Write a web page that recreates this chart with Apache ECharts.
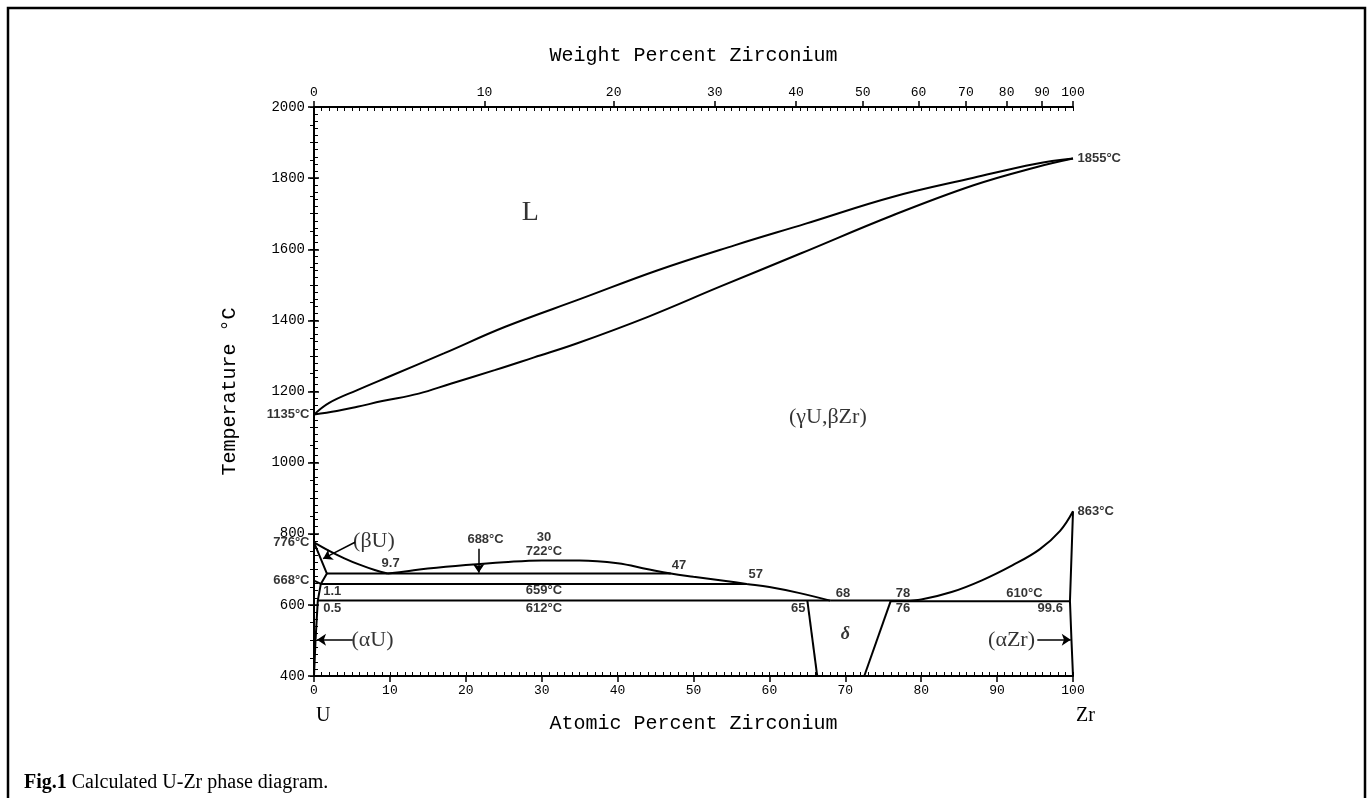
<!DOCTYPE html>
<html>
<head>
<meta charset="utf-8">
<title>U-Zr phase diagram</title>
<script src="https://cdn.jsdelivr.net/npm/echarts@6.0.0/dist/echarts.min.js"></script>
<style>
  html, body { margin: 0; padding: 0; background: #fff; }
  #chart { width: 1371px; height: 798px; }
</style>
</head>
<body>
<div id="chart"></div>
<script>
// liquidus / solidus of the (gammaU, betaZr) field
const liquidus = [[0, 1135], [2, 1168], [5.7, 1204], [10, 1243], [17.1, 1307], [25.2, 1382], [35.2, 1461],
  [45.3, 1541], [55.4, 1611], [64.8, 1672], [76.2, 1747], [86.9, 1801], [95, 1840], [100, 1855]]
const solidus = [[0, 1135], [3, 1145], [5.7, 1157], [9, 1173], [13.8, 1194], [18, 1222], [23.8, 1260],
  [29, 1296], [34.6, 1335], [44, 1410], [53.4, 1494], [64.1, 1588], [76.2, 1695], [86.9, 1780], [95, 1830], [100, 1855]]

// low temperature boundaries
const betaUGamma = [[0, 776], [2, 752], [4, 731], [6, 713], [8, 698], [9.7, 688]]
const gammaDome = [[9.7, 688], [12, 694], [15, 702], [20, 712], [25, 720], [30, 725], [35, 725], [40, 717],
  [44, 700], [47, 688], [50, 679], [54, 668], [57, 659], [60, 650], [64, 633], [68, 612]]
const gammaFlat = [[68, 612], [78, 612]]
const gammaZr = [[78, 612], [80, 615], [84, 636], [88, 669], [92, 711], [95.6, 756], [98.3, 808], [100, 863]]
const line688 = [[1.7, 688], [47, 688]]
const line659 = [[0.9, 659], [57, 659]]
const line612 = [[0.5, 612], [68, 612]]
const line610 = [[76, 610], [99.6, 610]]
const betaUEdge = [[0, 776], [1.7, 688], [0.9, 659]]
const alphaUEdge = [[0, 668], [0.9, 659], [0.5, 612], [0.2, 500], [0, 400]]
const deltaLeft = [[65, 612], [66.3, 400]]
const deltaRight = [[76, 612], [72.5, 400]]
const alphaZrEdge = [[100, 863], [99.6, 610], [99.8, 500], [100, 400]]

// pointer arrows [from, to]
const arrows = [
  [[5.4, 776], [1.2, 730]],
  [[21.7, 758], [21.7, 690]],
  [[5.1, 502], [0.4, 502]],
  [[95.3, 502], [99.7, 502]]
]

// annotations [x, T, text]
const numLabels = [
  [22.6, 784, '688°C'], [30.3, 791, '30'], [30.3, 751, '722°C'], [10.1, 716, '9.7'],
  [48.1, 710, '47'], [58.2, 685, '57'], [69.7, 633, '68'], [77.6, 633, '78'], [93.6, 633, '610°C'],
  [2.4, 638, '1.1'], [2.4, 591, '0.5'], [30.3, 640, '659°C'], [30.3, 591, '612°C'],
  [63.8, 591, '65'], [77.6, 591, '76'], [97, 591, '99.6']
]
const leftLabels = [[0, 1135, '1135°C'], [0, 776, '776°C'], [0, 668, '668°C']]
const rightLabels = [[100, 1855, '1855°C'], [100, 863, '863°C']]
const phaseLabels = [
  [7.9, 779, '(βU)'], [7.7, 502, '(αU)'], [91.9, 502, '(αZr)'], [67.7, 1128, '(γU,βZr)']
]
const bigLabels = [[28.5, 1702, 'L']]
const deltaLabels = [[70, 516, 'δ']]

// top axis: weight percent Zr
const wtTicks = [0, 10, 20, 30, 40, 50, 60, 70, 80, 90, 100]
const M_ZR = 91.224
const M_U = 238.029
function wtToAt(w) {
  if (w >= 100) return 100
  const nz = w / M_ZR
  const nu = (100 - w) / M_U
  return nz / (nz + nu) * 100
}
const wtPos = wtTicks.map(wtToAt)

const mono = 'Liberation Mono'
const black = '#000'

function curve(data, smooth) {
  return {
    type: 'line',
    data: data,
    showSymbol: false,
    symbol: 'none',
    smooth: smooth || false,
    silent: true,
    clip: false,
    lineStyle: { color: black, width: 2 },
    z: 3
  }
}

function labels(list, label) {
  return {
    type: 'scatter',
    symbolSize: 1,
    clip: false,
    silent: true,
    itemStyle: { color: 'rgba(0,0,0,0)' },
    data: list.map(d => ({ value: [d[0], d[1]], name: d[2] })),
    label: Object.assign({ show: true, formatter: '{b}', color: black }, label),
    z: 5
  }
}

const chart = echarts.init(document.getElementById('chart'))
chart.setOption({
  animation: false,
  backgroundColor: '#fff',
  grid: { left: 314, right: 298, top: 107, bottom: 122 },
  xAxis: [
    {
      type: 'value', position: 'bottom', min: 0, max: 100, interval: 10,
      name: 'Atomic Percent Zirconium', nameLocation: 'middle', nameGap: 38,
      nameTextStyle: { fontFamily: mono, fontSize: 20, color: black },
      axisLine: { show: true, lineStyle: { color: black, width: 2 } },
      axisTick: { show: true, length: 6, lineStyle: { color: black, width: 1.5 } },
      axisLabel: { fontFamily: mono, fontSize: 13, color: black, margin: 8 },
      splitLine: { show: false }
    },
    {
      type: 'value', position: 'bottom', min: 0, max: 100, interval: 1,
      axisLine: { show: false },
      axisTick: { show: true, inside: true, length: 4, lineStyle: { color: black, width: 1 } },
      axisLabel: { show: false },
      splitLine: { show: false }
    },
    {
      type: 'value', position: 'top', min: 0, max: 100,
      name: 'Weight Percent Zirconium', nameLocation: 'middle', nameGap: 41,
      nameTextStyle: { fontFamily: mono, fontSize: 20, color: black },
      axisLine: { show: true, lineStyle: { color: black, width: 2 } },
      axisTick: { show: true, length: 6, customValues: wtPos, lineStyle: { color: black, width: 1.5 } },
      axisLabel: {
        fontFamily: mono, fontSize: 13, color: black, margin: 8, customValues: wtPos,
        formatter: function (v) {
          let best = 0
          wtPos.forEach((p, i) => { if (Math.abs(p - v) < Math.abs(wtPos[best] - v)) best = i })
          return String(wtTicks[best])
        }
      },
      splitLine: { show: false }
    },
    {
      type: 'value', position: 'top', min: 0, max: 100, interval: 1,
      axisLine: { show: false },
      axisTick: { show: true, inside: true, length: 4, lineStyle: { color: black, width: 1 } },
      axisLabel: { show: false },
      splitLine: { show: false }
    }
  ],
  yAxis: [
    {
      type: 'value', position: 'left', min: 400, max: 2000, interval: 200,
      name: 'Temperature °C', nameLocation: 'middle', nameGap: 74, nameRotate: 90,
      nameTextStyle: { fontFamily: mono, fontSize: 20, color: black },
      axisLine: { show: true, lineStyle: { color: black, width: 2 } },
      axisTick: { show: true, length: 6, lineStyle: { color: black, width: 1.5 } },
      axisLabel: { fontFamily: mono, fontSize: 14, color: black, margin: 9, formatter: v => String(v) },
      splitLine: { show: false }
    },
    {
      type: 'value', position: 'left', min: 400, max: 2000, interval: 20,
      axisLine: { show: false },
      axisTick: { show: true, inside: true, length: 4, lineStyle: { color: black, width: 1 } },
      axisLabel: { show: false },
      splitLine: { show: false }
    },
    {
      type: 'value', position: 'right', min: 400, max: 2000, interval: 200,
      axisLine: { show: true, lineStyle: { color: black, width: 2 } },
      axisTick: { show: true, length: 5, lineStyle: { color: black, width: 1.5 } },
      axisLabel: { show: false },
      splitLine: { show: false }
    },
    {
      type: 'value', position: 'right', min: 400, max: 2000, interval: 50,
      axisLine: { show: false },
      axisTick: { show: true, inside: true, length: 4, lineStyle: { color: black, width: 1 } },
      axisLabel: { show: false },
      splitLine: { show: false }
    }
  ],
  series: [
    curve(liquidus, 0.4),
    curve(solidus, 0.4),
    curve(betaUGamma, 0.4),
    curve(gammaDome, 0.4),
    curve(gammaFlat),
    curve(gammaZr, 0.4),
    curve(line688),
    curve(line659),
    curve(line612),
    curve(line610),
    curve(betaUEdge),
    curve(alphaUEdge),
    curve(deltaLeft),
    curve(deltaRight),
    curve(alphaZrEdge),
    {
      type: 'lines',
      coordinateSystem: 'cartesian2d',
      silent: true,
      symbol: ['none', 'arrow'],
      symbolSize: 9,
      lineStyle: { color: black, width: 1.5, opacity: 1 },
      data: arrows.map(a => ({ coords: a })),
      z: 4
    },
    labels(numLabels, { position: 'inside', fontFamily: 'Liberation Sans', fontWeight: 'bold', fontSize: 13 }),
    labels(leftLabels, { position: 'left', distance: 4, fontFamily: 'Liberation Sans', fontWeight: 'bold', fontSize: 13 }),
    labels(rightLabels, { position: 'right', distance: 4, fontFamily: 'Liberation Sans', fontWeight: 'bold', fontSize: 13 }),
    labels(phaseLabels, { position: 'inside', fontFamily: 'Liberation Serif', fontSize: 22 }),
    labels(bigLabels, { position: 'inside', fontFamily: 'Liberation Serif', fontSize: 28 }),
    labels(deltaLabels, { position: 'inside', fontFamily: 'Liberation Serif', fontStyle: 'italic', fontWeight: 'bold', fontSize: 18 })
  ],
  graphic: [
    {
      type: 'rect', silent: true,
      shape: { x: 8, y: 8, width: 1357, height: 800 },
      style: { fill: 'none', stroke: black, lineWidth: 2.5 }
    },
    {
      type: 'text', left: 316, top: 706,
      style: { text: 'U', font: '20px "Liberation Serif"', fill: black }
    },
    {
      type: 'text', left: 1076, top: 706,
      style: { text: 'Zr', font: '20px "Liberation Serif"', fill: black }
    },
    {
      type: 'text', left: 24, top: 773,
      style: {
        text: '{b|Fig.1} Calculated U-Zr phase diagram.',
        font: '20px "Liberation Serif"', fill: black,
        rich: { b: { fontFamily: 'Liberation Serif', fontSize: 20, fontWeight: 'bold' } }
      }
    }
  ]
})
</script>
</body>
</html>
